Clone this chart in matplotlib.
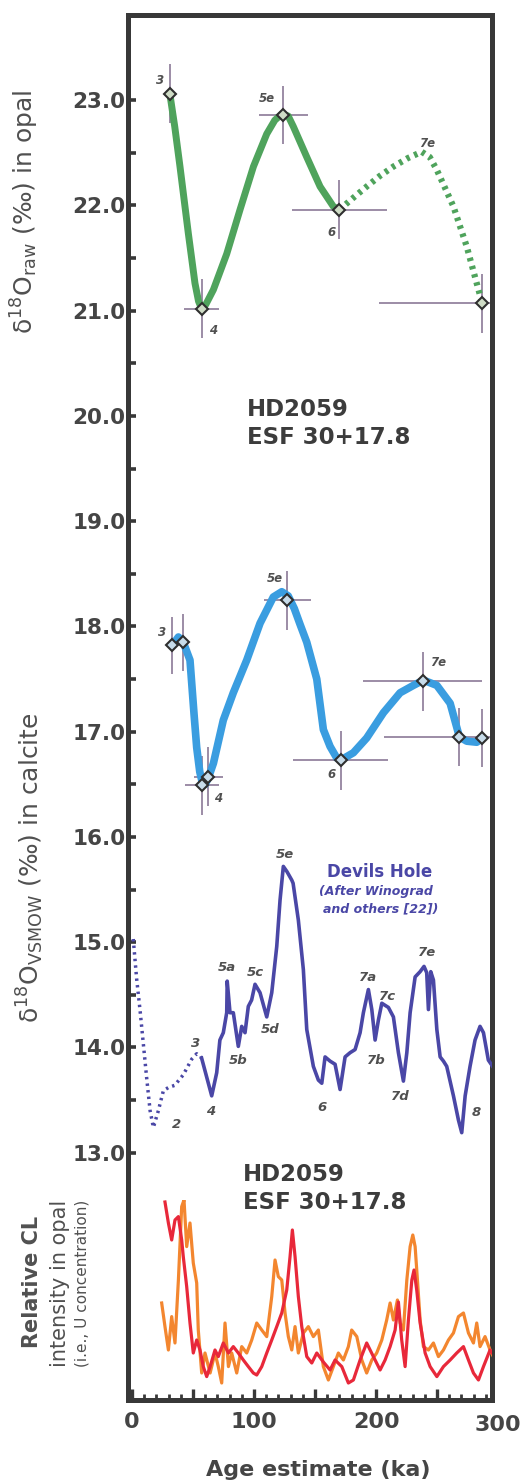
import matplotlib
matplotlib.use("Agg")
import matplotlib.pyplot as plt

plt.rcParams['font.family'] = ['DejaVu Sans']
plt.rcParams['mathtext.fontset'] = 'dejavusans'

# --- opal d18O (green), smooth curve ---
green_age = [31, 35, 39.3, 46.2, 51.6, 54.5, 57, 60.5, 66.7, 77.6, 88.5, 99.5, 110.4, 117, 122.7,
             128, 132.2, 143.2, 154.1, 165, 170]
green_val = [23.06, 22.75, 22.37, 21.73, 21.26, 21.09, 21.02, 21.06, 21.2, 21.54, 21.96, 22.37, 22.68,
             22.81, 22.87, 22.85, 22.75, 22.46, 22.18, 21.99, 21.96]
green_dot_age = [170, 181, 192.3, 203, 214.2, 226, 237.4, 244, 249.7, 256, 263.4, 274.3, 282.5, 287]
green_dot_val = [21.96, 22.07, 22.18, 22.28, 22.37, 22.45, 22.51, 22.46, 22.34, 22.18, 21.99, 21.61, 21.26, 21.07]
green_pt_age = [31, 57, 124, 170, 287]
green_pt_val = [23.06, 21.02, 22.86, 21.96, 21.07]
green_xerr = [0, 14, 20, 39, 85]
green_yerr = [0.28, 0.28, 0.28, 0.28, 0.28]

# --- calcite d18O (blue) ---
blue_age = [33, 38, 42, 47.5, 50.8, 53, 55.5, 57.5, 60, 62.5, 66.7, 74.8, 83, 94, 104.9, 115.8, 122.7,
            128, 133, 137.7, 143.2, 151.4, 156.8, 162.3, 167.8, 171, 181.4, 192.3, 206, 219.7, 230.6,
            238.8, 249.8, 260.7, 268.3, 274.3, 282.5, 287.1]
blue_val = [17.82, 17.9, 17.85, 17.68, 17.17, 16.85, 16.62, 16.52, 16.5, 16.56, 16.7, 17.11, 17.37, 17.68,
            18.03, 18.28, 18.33, 18.29, 18.17, 18.02, 17.85, 17.5, 17.02, 16.86, 16.75, 16.73, 16.8, 16.94,
            17.18, 17.37, 17.44, 17.49, 17.44, 17.27, 16.95, 16.91, 16.9, 16.94]
blue_pt_age = [33, 42, 57.5, 62.5, 127.3, 171, 238.2, 268.3, 287.1]
blue_pt_val = [17.82, 17.85, 16.49, 16.57, 18.25, 16.73, 17.48, 16.95, 16.94]
blue_xerr = [0, 0, 14, 12, 19, 39, 49, 62, 0]
blue_yerr = [0.27, 0.27, 0.28, 0.28, 0.28, 0.28, 0.28, 0.28, 0.28]

# --- Devils Hole (after Winograd and others) ---
dh_dot_age = [1, 3.8, 6.6, 9.3, 12, 14.8, 17.5, 21.6, 25.7, 30, 35, 42, 49, 53, 57]
dh_dot_val = [15.03, 14.65, 14.35, 14.03, 13.71, 13.4, 13.24, 13.4, 13.59, 13.62, 13.64, 13.74, 13.89,
              13.94, 13.9]
dh_age = [57, 65.3, 69.4, 72, 74.8, 77.6, 78, 80.3, 83, 87.1, 89.9, 92.6, 95.3, 98, 100.8, 104.9, 110.4,
          114.5, 118.6, 121.3, 124, 127, 130.9, 132, 136.3, 140.4, 143.2, 148.6, 152.7, 155.5, 158.2,
          162.3, 166.4, 170.5, 174.6, 178.7, 182.8, 186.9, 189.6, 193.7, 196.5, 199.2, 201.9, 204.7,
          210.1, 214.2, 218.3, 222.4, 225.2, 227.9, 232, 236.1, 239.3, 241.5, 242.9, 244.8, 247, 249.8,
          252.5, 255.2, 257.9, 263.4, 267.5, 270.2, 273, 277, 281.1, 285.2, 288, 292, 296.1]
dh_val = [13.9, 13.54, 13.76, 14.07, 14.14, 14.33, 14.63, 14.33, 14.33, 14.01, 14.2, 14.14, 14.39, 14.45,
          14.6, 14.52, 14.29, 14.52, 14.96, 15.4, 15.72, 15.67, 15.59, 15.56, 15.21, 14.74, 14.17, 13.82,
          13.69, 13.66, 13.91, 13.87, 13.84, 13.6, 13.91, 13.95, 13.98, 14.14, 14.33, 14.55, 14.36, 14.07,
          14.26, 14.42, 14.38, 14.29, 13.95, 13.68, 13.95, 14.33, 14.67, 14.72, 14.77, 14.71, 14.36,
          14.72, 14.64, 14.17, 13.91, 13.87, 13.82, 13.54, 13.31, 13.19, 13.54, 13.82, 14.07, 14.2,
          14.14, 13.88, 13.81]

# --- relative CL intensity (arbitrary units) ---
cl_red_age = [27, 29.8, 32.5, 35.2, 38, 40.7, 42, 44.8, 47.5, 50.2, 53, 55.7, 58.4, 61.2, 64, 68, 70.7,
              74.8, 79, 83, 87.1, 91.2, 95.3, 99.4, 102.2, 106.3, 110.4, 114.5, 118.6, 122.7, 126.8,
              129.5, 131.4, 133.6, 136.3, 139.1, 143.2, 147.3, 151.4, 156.8, 162.3, 166.4, 171.9, 177.3,
              181.4, 186.9, 192.3, 197.8, 203.3, 207.4, 211.5, 215.6, 218.3, 221, 223.8, 226.5, 229.3,
              231.1, 233.3, 236.1, 240.2, 244.3, 249.8, 255.2, 260.7, 266.1, 271.6, 275.7, 279.8, 283.9,
              288, 293.4, 297.5]
cl_red_val = [100, 89.5, 81, 91, 92.7, 81, 72.7, 57.7, 39.5, 24.5, 31, 26, 17.7, 12.7, 17.7, 26, 22.7,
              29.5, 24.5, 27.7, 24.5, 21, 17.7, 14.5, 13.5, 17.7, 24.5, 31, 37.7, 44.5, 56, 72.7, 86, 72.7,
              52.7, 37.7, 22.7, 19.5, 24.5, 20, 16, 21, 17.7, 9.5, 11, 21, 29.5, 22.7, 16, 21, 27.7, 36,
              50, 31, 17.7, 41, 61, 66, 56, 39.5, 24.5, 17.7, 12.7, 17.7, 21, 24.5, 27.7, 21, 14.5, 11,
              17.7, 26, 22.7]
cl_orange_age = [24.3, 27, 29.8, 32.5, 35.2, 38, 40.7, 42.6, 44.8, 47.5, 50.2, 53, 54.3, 57.1, 59.8, 64,
                 68, 70.7, 73.5, 76.2, 79, 81.7, 85.8, 89.9, 94, 98.1, 102.2, 106.3, 110.4, 114.5, 117.2,
                 119.9, 122.7, 125.4, 128.1, 130.9, 133.6, 136.3, 140.4, 144.5, 148.6, 152.7, 156.8,
                 160.9, 165, 169.1, 173.2, 177.3, 180, 184.2, 188.3, 192.3, 196.5, 200.5, 204.7, 208.7,
                 211.5, 214.2, 217.5, 219.7, 222.4, 225.2, 227.9, 230.1, 232, 233.9, 236.1, 238.8, 242.9,
                 247, 251.1, 255.2, 259.3, 263.4, 267.5, 271.6, 275.7, 279.8, 282.5, 285.2, 289.3, 293.4,
                 297.5]
cl_orange_val = [49.5, 37.7, 26, 42.7, 29.5, 61, 97.7, 101, 77.7, 89.5, 69.5, 59.5, 36, 14.5, 24.5, 14.5,
                 24.5, 17.7, 9.5, 39.5, 17.7, 24.5, 14.5, 27.7, 24.5, 31, 39.5, 36, 32.7, 52.7, 71, 62.7,
                 61, 44.5, 32.7, 26, 37.7, 24.5, 34.5, 37.7, 32.7, 36, 17.7, 11, 17.7, 24.5, 21, 27.7, 36,
                 32.7, 21, 14.5, 21, 24.5, 31, 41, 49.5, 41, 51, 39.5, 36, 61, 77.7, 83.5, 77.7, 61, 41,
                 27.7, 26, 29.5, 22.7, 26, 31, 34.5, 42.7, 44.5, 34.5, 29.5, 39.5, 27.7, 32.7, 26, 21]

green_labels = [('3', 22.9, 23.19), ('4', 66.7, 20.81), ('5e', 110.4, 23.02), ('6', 163.7, 21.74),
                ('7e', 241.5, 22.59)]
blue_labels = [('3', 24.8, 17.94), ('5e', 117.2, 18.46), ('7e', 251.1, 17.66), ('4', 70.7, 16.37),
               ('6', 163.7, 16.59)]
dh_labels = [('5e', 125.4, 15.83), ('5a', 77.6, 14.76), ('5c', 100.8, 14.71), ('5d', 113, 14.17),
             ('5b', 87.1, 13.88), ('3', 52.5, 14.04), ('4', 64.8, 13.39), ('2', 36.6, 13.27),
             ('6', 155.5, 13.43), ('7a', 193.7, 14.66), ('7b', 200.5, 13.88), ('7c', 209.3, 14.48),
             ('7d', 219.7, 13.53), ('7e', 241.5, 14.9), ('8', 282, 13.38)]

GREEN = '#4fa35c'
BLUE = '#3a9de0'
DH = '#4a47a6'
RED = '#e8283a'
ORANGE = '#f3862f'
ERR = '#9c8ca6'
FRAME = '#383838'
TXT = '#454545'

fig = plt.figure(figsize=(5.24, 14.82), dpi=100)
ax = fig.add_axes([128 / 524, 1 - 1400 / 1482, (492 - 128) / 524, (1400 - 15) / 1482])
ax.set_xlim(-3.3, 295)
ax.set_ylim(10.65, 23.81)

# opal
ax.errorbar(green_pt_age, green_pt_val, xerr=green_xerr, yerr=green_yerr, fmt='none',
            ecolor=ERR, elinewidth=1.4, capsize=0, zorder=2)
ax.plot(green_age, green_val, color=GREEN, lw=5, zorder=3)
ax.plot(green_dot_age, green_dot_val, color=GREEN, lw=4.5, ls=(0, (0.55, 0.8)), zorder=3)
ax.plot(green_pt_age, green_pt_val, 'D', ms=6, mfc='#cfdcc6', mec='#2f2f2f', mew=1.5, zorder=4)

# calcite
ax.errorbar(blue_pt_age, blue_pt_val, xerr=blue_xerr, yerr=blue_yerr, fmt='none',
            ecolor=ERR, elinewidth=1.4, capsize=0, zorder=2)
ax.plot(blue_age, blue_val, color=BLUE, lw=5.5, solid_capstyle='round', zorder=3)
ax.plot(blue_pt_age, blue_pt_val, 'D', ms=6, mfc='#c8dcea', mec='#2f2f2f', mew=1.5, zorder=4)

# Devils Hole
ax.plot(dh_dot_age, dh_dot_val, color=DH, lw=2.5, ls=(0, (0.7, 1.2)), zorder=3)
ax.plot(dh_age, dh_val, color=DH, lw=2.6, zorder=3)

for lab, a, v in green_labels + blue_labels:
    ax.text(a, v, lab, fontsize=8.5, style='italic', fontweight='bold', color='#505050',
            ha='center', va='center')
for lab, a, v in dh_labels:
    ax.text(a, v, lab, fontsize=9.5, style='italic', fontweight='bold', color='#505050',
            ha='center', va='center')

ax.text(202.5, 15.67, 'Devils Hole', fontsize=12, fontweight='bold', color=DH, ha='center', va='center')
ax.text(199.9, 15.48, '(After Winograd', fontsize=9, fontweight='bold', style='italic', color=DH,
        ha='center', va='center')
ax.text(204, 15.32, 'and others [22])', fontsize=9, fontweight='bold', style='italic', color=DH,
        ha='center', va='center')

ax.text(94, 20.17, 'HD2059\nESF 30+17.8', fontsize=16.5, fontweight='bold', color='#3c3c3c',
        ha='left', va='top', linespacing=1.25)
ax.text(91, 12.9, 'HD2059\nESF 30+17.8', fontsize=16.5, fontweight='bold', color='#3c3c3c',
        ha='left', va='top', linespacing=1.25)

# CL traces in their own (hidden) axes over the bottom strip
cl = ax.inset_axes([0, 0, 1, 200 / 1385])
cl.set_xlim(ax.get_xlim())
cl.set_ylim(1, 101)
cl.axis('off')
cl.patch.set_alpha(0)
cl.plot(cl_orange_age, cl_orange_val, color=ORANGE, lw=2.3, zorder=2)
cl.plot(cl_red_age, cl_red_val, color=RED, lw=2.3, zorder=3)

# axes styling
for s in ax.spines.values():
    s.set_linewidth(3.6)
    s.set_color(FRAME)
ax.set_yticks([13, 14, 15, 16, 17, 18, 19, 20, 21, 22, 23])
ax.set_yticklabels(['13.0', '14.0', '15.0', '16.0', '17.0', '18.0', '19.0', '20.0', '21.0', '22.0', '23.0'])
ax.set_yticks([13.5, 14.5, 15.5, 16.5, 17.5, 18.5, 19.5, 20.5, 21.5, 22.5], minor=True)
ax.set_xticks([0, 50, 100, 150, 200, 250])
ax.set_xticklabels(['0', '', '100', '', '200', ''])
ax.set_xticks([10, 20, 30, 40, 60, 70, 80, 90, 110, 120, 130, 140, 160, 170, 180, 190,
               210, 220, 230, 240, 260, 270, 280, 290], minor=True)
ax.tick_params(axis='y', which='both', direction='in', length=6, width=2.6, color=FRAME,
               labelsize=15.5, labelcolor=TXT, pad=2)
ax.tick_params(axis='x', which='major', direction='in', length=8, width=2.4, color=FRAME,
               labelsize=16, labelcolor=TXT, pad=9)
ax.tick_params(axis='x', which='minor', direction='in', length=4, width=2, color=FRAME)
for t in ax.get_yticklabels() + ax.get_xticklabels():
    t.set_fontweight('bold')
ax.text(300, -25 / 1385, '300', transform=ax.get_xaxis_transform(), fontsize=16, fontweight='bold',
        color=TXT, ha='center', va='center')

fig.text(318 / 524, 1 - 1470 / 1482, 'Age estimate (ka)', fontsize=16, fontweight='bold', color=TXT,
         ha='center', va='center')
fig.text(25 / 524, 1 - 212 / 1482, 'δ$^{18}$O$_{\\mathrm{raw}}$ (‰) in opal', rotation=90,
         fontsize=18, color='#505050', ha='center', va='center')
fig.text(30 / 524, 1 - 868 / 1482, 'δ$^{18}$O$_{\\mathrm{VSMOW}}$ (‰) in calcite', rotation=90,
         fontsize=18, color='#505050', ha='center', va='center')
fig.text(32 / 524, 1 - 1282 / 1482, 'Relative CL', rotation=90, fontsize=15, fontweight='bold',
         color='#505050', ha='center', va='center')
fig.text(60 / 524, 1 - 1283 / 1482, 'intensity in opal', rotation=90, fontsize=15,
         color='#505050', ha='center', va='center')
fig.text(82 / 524, 1 - 1283 / 1482, '(i.e., U concentration)', rotation=90, fontsize=11,
         color='#505050', ha='center', va='center')

fig.savefig('out.png', dpi=100)
